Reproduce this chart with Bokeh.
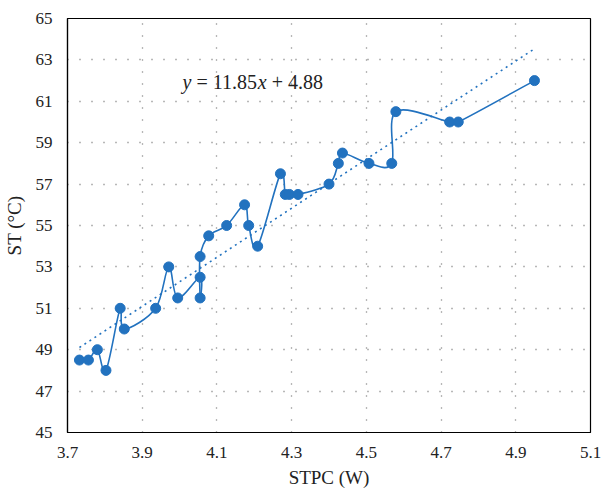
import numpy as np
from bokeh.plotting import figure
from bokeh.models import FixedTicker, Label, ColumnDataSource
from bokeh.embed import file_html
from bokeh.resources import INLINE

# ---- data ----
stpc = [3.732, 3.756, 3.780, 3.803, 3.841, 3.852, 3.936, 3.971, 3.995, 4.055,
        4.055, 4.055, 4.078, 4.126, 4.174, 4.185, 4.209, 4.270, 4.283, 4.294,
        4.317, 4.400, 4.425, 4.436, 4.507, 4.568, 4.579, 4.723, 4.746, 4.950]
st = [48.5, 48.5, 49.0, 48.0, 51.0, 50.0, 51.0, 53.0, 51.5, 52.5,
      51.5, 53.5, 54.5, 55.0, 56.0, 55.0, 54.0, 57.5, 56.5, 56.5,
      56.5, 57.0, 58.0, 58.5, 58.0, 58.0, 60.5, 60.0, 60.0, 62.0]
trend_slope = 11.85
trend_intercept = 4.88
x_ticks = [3.7, 3.9, 4.1, 4.3, 4.5, 4.7, 4.9, 5.1]
y_ticks = [45, 47, 49, 51, 53, 55, 57, 59, 61, 63, 65]

BLUE = "#2272bf"
FONT = "Liberation Serif"
NB = "\u00a0"

p = figure(width=602, height=490, output_backend="svg", toolbar_location=None,
           x_range=(3.7, 5.1), y_range=(45, 65),
           min_border_left=64, min_border_right=12, min_border_top=18,
           min_border_bottom=55)
p.background_fill_color = "white"
p.border_fill_color = "white"
p.outline_line_color = "black"
p.outline_line_width = 1.2

# smooth line through points (Catmull-Rom as cubic Bezier segments)
xs = np.array(stpc)
ys = np.array(st)
n = len(xs)
xp = np.concatenate([[xs[0]], xs, [xs[-1]]])
yp = np.concatenate([[ys[0]], ys, [ys[-1]]])
x0 = xs[:-1]; y0 = ys[:-1]; x1 = xs[1:]; y1 = ys[1:]
cx0 = x0 + (xp[2:n + 1] - xp[0:n - 1]) / 6.0
cy0 = y0 + (yp[2:n + 1] - yp[0:n - 1]) / 6.0
cx1 = x1 - (xp[3:n + 2] - xp[1:n]) / 6.0
cy1 = y1 - (yp[3:n + 2] - yp[1:n]) / 6.0
bsrc = ColumnDataSource(dict(x0=x0, y0=y0, x1=x1, y1=y1,
                             cx0=cx0, cy0=cy0, cx1=cx1, cy1=cy1))
p.bezier(x0="x0", y0="y0", x1="x1", y1="y1", cx0="cx0", cy0="cy0",
         cx1="cx1", cy1="cy1", source=bsrc, line_color=BLUE, line_width=1.6)

# trend line
tx = np.array([min(stpc), max(stpc)])
ty = trend_slope * tx + trend_intercept
p.line(tx, ty, line_color=BLUE, line_width=1.6, line_dash="2 4")

p.scatter(stpc, st, size=10, fill_color=BLUE, line_color=BLUE)

# axes
p.xaxis.ticker = FixedTicker(ticks=x_ticks)
p.yaxis.ticker = FixedTicker(ticks=y_ticks)
p.xaxis.major_label_overrides = {t: f"{t:.1f}" for t in x_ticks}
for ax in (p.xaxis[0], p.yaxis[0]):
    ax.major_tick_line_color = None
    ax.minor_tick_line_color = None
    ax.axis_line_color = "black"
    ax.axis_line_width = 1.2
    ax.major_label_text_font = FONT
    ax.major_label_text_font_size = "17px"
    ax.major_label_text_color = "#222222"
    ax.axis_label_text_font = FONT
    ax.axis_label_text_font_size = "19px"
    ax.axis_label_text_font_style = "normal"
    ax.axis_label_text_color = "#222222"
p.xaxis.major_label_standoff = 8
p.yaxis.major_label_standoff = 9
p.xaxis.axis_label = "STPC (W)"
p.yaxis.axis_label = "ST (°C)"
p.xaxis.axis_label_standoff = 6
p.yaxis.axis_label_standoff = 8

for g in (p.xgrid[0], p.ygrid[0]):
    g.grid_line_color = "#707070"
    g.grid_line_width = 1.3
    g.grid_line_dash = "1 11"

# equation
ex, ey = 4.008, 61.95
pieces = [("y", "italic", 0), (NB + "=" + NB + "11.85", "normal", 8.9),
          ("x", "italic", 75.2), (NB + "+" + NB + "4.88", "normal", 84.1)]
for txt, style, off in pieces:
    p.add_layout(Label(x=ex, y=ey, x_offset=off, text=txt, text_font=FONT,
                       text_font_size="20px", text_font_style=style,
                       text_color="#222222", text_baseline="alphabetic",
                       text_align="left"))

open("out.html", "w").write(file_html(p, INLINE))
